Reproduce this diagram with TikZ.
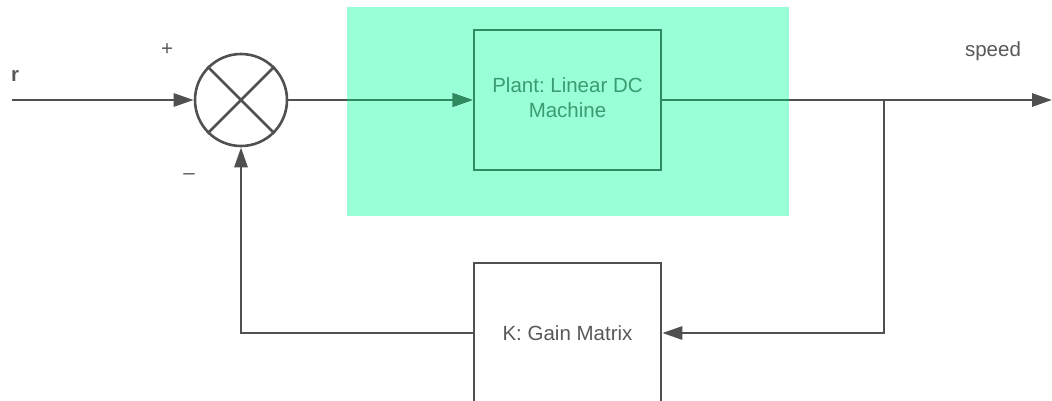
\documentclass[tikz,border=0pt]{standalone}
\usepackage{fontspec}
\setmainfont{Liberation Sans}
\usetikzlibrary{arrows.meta}
\definecolor{linegray}{RGB}{80,80,80}
\definecolor{textgray}{RGB}{88,88,88}
\definecolor{mint}{RGB}{153,255,214}
\definecolor{darkgreen}{RGB}{46,139,96}
\definecolor{textgreen}{RGB}{58,156,112}
\frenchspacing
\begin{document}
\begin{tikzpicture}[x=1pt,y=-1pt,
  conn/.style={draw=linegray,line width=2.9pt},
  arr/.style={-{Triangle[length=20pt,width=13pt]}},
  blockbox/.style={draw=linegray,line width=2.6pt,minimum width=187pt,minimum height=140pt,inner sep=0pt,text=textgray,font=\fontsize{20.5}{25}\selectfont,align=center},
  lbl/.style={text=textgray,font=\fontsize{20.5}{25}\selectfont,inner sep=0pt}
]
\useasboundingbox (0,0) rectangle (1052,400);
% highlighted region
\fill[mint] (347,7) rectangle (789,216);
% nodes
\node[circle,draw=linegray,line width=2.6pt,minimum size=92pt,inner sep=0pt] (sum) at (241,100) {};
\draw[linegray,line width=2.6pt] (sum.45) -- (sum.225) (sum.135) -- (sum.-45);
\node[blockbox,draw=darkgreen,text=textgreen,text depth=5pt] (plant) at (567.5,100) {Plant: Linear DC\\Machine};
\node[blockbox] (K) at (567.5,333) {K: Gain Matrix};
\coordinate (rin) at (12,100);
\coordinate (out) at (1052,100);
\coordinate (br) at (884,100);
% labels
\node[lbl,font=\fontsize{20.5}{25}\selectfont\bfseries,anchor=base] (rlbl) at (15,81) {r};
\node[lbl] (plus) at (167,50) {+};
\node[lbl] (minus) at (189,177) {–};
\node[lbl,anchor=base] (speed) at (993,56) {speed};
% connectors (gray)
\draw[conn,arr] (rin) -- (sum.west);
\draw[conn,arr] (sum.east) -- (plant.west);
\draw[conn,arr] (plant.east) -- (out);
\draw[conn,arr] (br) |- (K.east);
\draw[conn,arr] (K.west) -| (sum.south);
% connectors inside the highlighted region (green)
\begin{scope}
\clip (347,7) rectangle (789,216);
\draw[conn,draw=darkgreen,arr,fill=darkgreen] (sum.east) -- (plant.west);
\draw[conn,draw=darkgreen] (plant.east) -- (out);
\end{scope}
\end{tikzpicture}
\end{document}
